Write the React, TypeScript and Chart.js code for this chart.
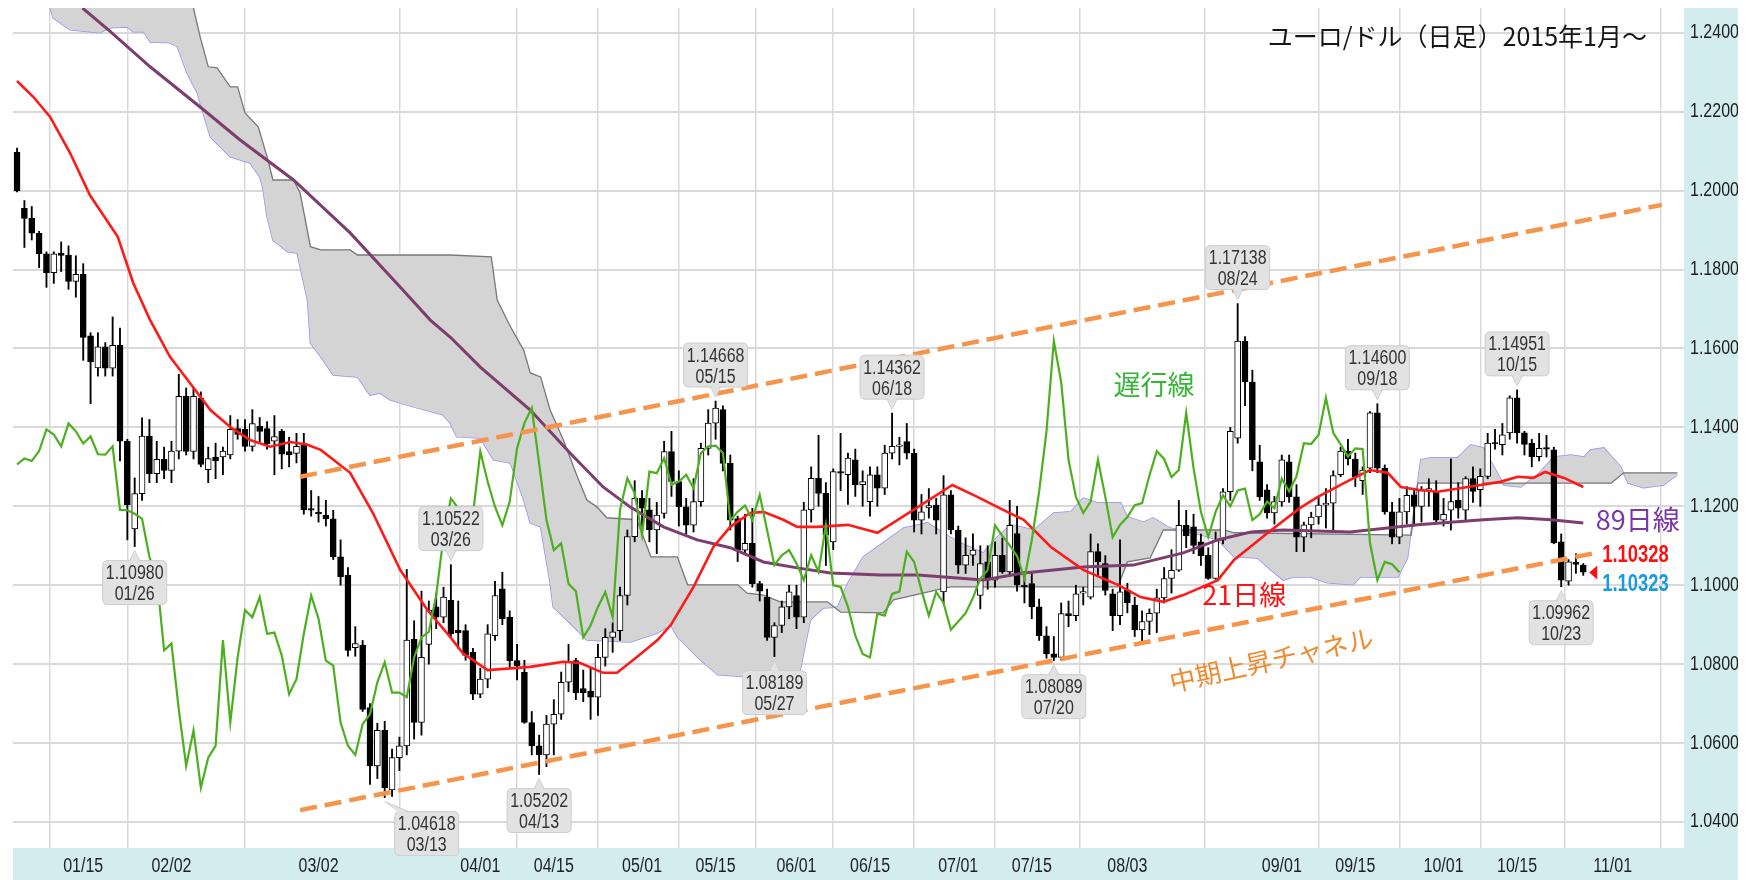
import React, { useEffect, useRef } from 'react';
import { Chart, registerables } from 'chart.js';

Chart.register(...registerables);

// ---- daily candles, 2015-01-02 .. 2015-10-28 (trading-day index 0..213) ----
const OPEN = [
  1.2097, 1.1955, 1.1930, 1.1892, 1.1840, 1.1792, 1.1842, 1.1836, 1.1770, 1.1788,
  1.1632, 1.1551, 1.1604, 1.1550, 1.1608, 1.1365, 1.1143, 1.1232, 1.1378, 1.1283,
  1.1319, 1.1291, 1.1340, 1.1479, 1.1339, 1.1474, 1.1293, 1.1325, 1.1325, 1.1330,
  1.1397, 1.1395, 1.1352, 1.1403, 1.1397, 1.1365, 1.1390, 1.1339, 1.1334, 1.1359,
  1.1194, 1.1183, 1.1178, 1.1168, 1.1072, 1.1026, 1.0842, 1.0848, 1.0690, 1.0542,
  1.0632, 1.0481, 1.0563, 1.0593, 1.0863, 1.0652, 1.0850, 1.0945, 1.0919, 1.0962,
  1.0886, 1.0885, 1.0830, 1.0724, 1.0762, 1.0872, 1.0991, 1.0919, 1.0809, 1.0779,
  1.0652, 1.0593, 1.0570, 1.0648, 1.0673, 1.0754, 1.0809, 1.0738, 1.0732, 1.0716,
  1.0817, 1.0868, 1.0885, 1.0974, 1.1123, 1.1220, 1.1191, 1.1140, 1.1182, 1.1339,
  1.1263, 1.1199, 1.1152, 1.1212, 1.1347, 1.1411, 1.1445, 1.1309, 1.1169, 1.1089,
  1.1106, 1.1004, 1.0970, 1.0868, 1.0898, 1.0945, 1.0974, 1.0919, 1.1191, 1.1271,
  1.1233, 1.1110, 1.1288, 1.1280, 1.1318, 1.1255, 1.1212, 1.1280, 1.1246, 1.1335,
  1.1352, 1.1364, 1.1335, 1.1165, 1.1196, 1.1203, 1.0983, 1.1229, 1.1140, 1.1051,
  1.1076, 1.0974, 1.1059, 1.1013, 1.1076, 1.1034, 1.1131, 1.1000, 1.1004, 1.0945,
  1.0872, 1.0826, 1.0817, 1.0928, 1.0923, 1.0980, 1.0970, 1.1085, 1.1055, 1.0978,
  1.0923, 1.0988, 1.0950, 1.0887, 1.0908, 1.0929, 1.0968, 1.1017, 1.1038, 1.1152,
  1.1148, 1.1110, 1.1076, 1.1017, 1.1114, 1.1237, 1.1373, 1.1619, 1.1515, 1.1313,
  1.1242, 1.1183, 1.1211, 1.1313, 1.1224, 1.1122, 1.1153, 1.1173, 1.1203, 1.1208,
  1.1280, 1.1340, 1.1320, 1.1265, 1.1297, 1.1437, 1.1297, 1.1186, 1.1122, 1.1186,
  1.1229, 1.1200, 1.1240, 1.1237, 1.1165, 1.1190, 1.1215, 1.1190, 1.1270, 1.1242,
  1.1276, 1.1360, 1.1356, 1.1386, 1.1475, 1.1386, 1.1360, 1.1326, 1.1347, 1.1343,
  1.1110, 1.1010, 1.1058, 1.1051,
];
const HIGH = [
  1.2108, 1.1975, 1.1960, 1.1897, 1.1845, 1.1845, 1.1870, 1.1860, 1.1835, 1.1815,
  1.1640, 1.1640, 1.1615, 1.1680, 1.1652, 1.1370, 1.1272, 1.1424, 1.1420, 1.1365,
  1.1350, 1.1365, 1.1535, 1.1500, 1.1500, 1.1490, 1.1350, 1.1360, 1.1350, 1.1430,
  1.1420, 1.1420, 1.1445, 1.1425, 1.1415, 1.1430, 1.1395, 1.1375, 1.1385, 1.1385,
  1.1240, 1.1225, 1.1215, 1.1190, 1.1115, 1.1045, 1.0895, 1.0860, 1.0700, 1.0650,
  1.0655, 1.0585, 1.0615, 1.1040, 1.0910, 1.0985, 1.0960, 1.0980, 1.0995, 1.10522,
  1.0960, 1.0900, 1.0840, 1.0790, 1.0900, 1.1010, 1.1033, 1.0935, 1.0850, 1.0810,
  1.0680, 1.0620, 1.0670, 1.0710, 1.0780, 1.0850, 1.0815, 1.0785, 1.0790, 1.0850,
  1.0890, 1.0905, 1.0995, 1.1140, 1.1265, 1.1240, 1.1220, 1.1210, 1.1365, 1.1390,
  1.1290, 1.1220, 1.1270, 1.1360, 1.1445, 1.14668, 1.1455, 1.1330, 1.1175, 1.1180,
  1.1195, 1.1010, 1.0990, 1.0905, 1.0960, 1.1000, 1.1000, 1.1210, 1.1300, 1.1380,
  1.1260, 1.1295, 1.1385, 1.1335, 1.1345, 1.1290, 1.1300, 1.1300, 1.1355, 1.14362,
  1.1375, 1.1410, 1.1345, 1.1230, 1.1245, 1.1220, 1.1278, 1.1240, 1.1150, 1.1120,
  1.1130, 1.1100, 1.1100, 1.1110, 1.1120, 1.1215, 1.1200, 1.1035, 1.1030, 1.0965,
  1.0895, 1.0870, 1.0955, 1.0960, 1.1000, 1.0995, 1.1130, 1.1105, 1.1075, 1.0990,
  1.1115, 1.1005, 1.0970, 1.0935, 1.0940, 1.0990, 1.1045, 1.1090, 1.1215, 1.1190,
  1.1180, 1.1130, 1.1095, 1.1135, 1.1245, 1.1400, 1.17138, 1.1630, 1.1545, 1.1355,
  1.1255, 1.1225, 1.1330, 1.1330, 1.1255, 1.1160, 1.1185, 1.1225, 1.1245, 1.1290,
  1.1350, 1.1370, 1.1335, 1.1300, 1.1440, 1.14600, 1.1305, 1.1210, 1.1220, 1.1250,
  1.1245, 1.1250, 1.1270, 1.1265, 1.1220, 1.1320, 1.1260, 1.1275, 1.1300, 1.1295,
  1.1385, 1.1395, 1.1410, 1.1480, 1.14951, 1.1390, 1.1370, 1.1385, 1.1380, 1.1350,
  1.1130, 1.1065, 1.1080, 1.1055,
];
const LOW = [
  1.1997, 1.1856, 1.1875, 1.1805, 1.1755, 1.1765, 1.1795, 1.1750, 1.1730, 1.1570,
  1.1460, 1.1530, 1.1530, 1.1530, 1.1315, 1.1115, 1.1098, 1.1215, 1.1260, 1.1260,
  1.1270, 1.1260, 1.1320, 1.1330, 1.1320, 1.1300, 1.1260, 1.1270, 1.1280, 1.1320,
  1.1370, 1.1340, 1.1340, 1.1360, 1.1345, 1.1280, 1.1295, 1.1300, 1.1310, 1.1180,
  1.1175, 1.1160, 1.1150, 1.1065, 1.1000, 1.0820, 1.0820, 1.0680, 1.0495, 1.0510,
  1.04618, 1.0465, 1.0530, 1.0570, 1.0610, 1.0620, 1.0800, 1.0890, 1.0905, 1.0865,
  1.0840, 1.0810, 1.0710, 1.0715, 1.0740, 1.0860, 1.0900, 1.0790, 1.0760, 1.0650,
  1.0570, 1.05202, 1.0540, 1.0570, 1.0660, 1.0730, 1.0710, 1.0705, 1.0660, 1.0670,
  1.0795, 1.0830, 1.0860, 1.0950, 1.1110, 1.1150, 1.1110, 1.1080, 1.1170, 1.1225,
  1.1150, 1.1130, 1.1135, 1.1200, 1.1330, 1.1370, 1.1290, 1.1140, 1.1060, 1.1080,
  1.0995, 1.0960, 1.0860, 1.08189, 1.0880, 1.0915, 1.0890, 1.0905, 1.1160, 1.1200,
  1.1050, 1.1090, 1.1240, 1.1205, 1.1225, 1.1200, 1.1175, 1.1200, 1.1230, 1.1320,
  1.1305, 1.1320, 1.1135, 1.1130, 1.1170, 1.1130, 1.0955, 1.1130, 1.1030, 1.1030,
  1.1050, 1.0940, 1.0990, 1.0995, 1.1030, 1.1025, 1.0985, 1.0955, 1.0915, 1.0860,
  1.0815, 1.08089, 1.0810, 1.0895, 1.0910, 1.0950, 1.0965, 1.1025, 1.0975, 1.0885,
  1.0900, 1.0930, 1.0870, 1.0850, 1.0875, 1.0880, 1.0955, 1.0980, 1.1035, 1.1095,
  1.1080, 1.1050, 1.1015, 1.1015, 1.1105, 1.1215, 1.1360, 1.1455, 1.1290, 1.1215,
  1.1170, 1.1155, 1.1200, 1.1210, 1.1085, 1.1085, 1.1120, 1.1155, 1.1145, 1.1140,
  1.1275, 1.1305, 1.1250, 1.1230, 1.1285, 1.1285, 1.1180, 1.1105, 1.1105, 1.1155,
  1.1150, 1.1160, 1.1200, 1.1160, 1.1150, 1.1140, 1.1170, 1.1165, 1.1210, 1.1200,
  1.1270, 1.1345, 1.1330, 1.1370, 1.1360, 1.1330, 1.1300, 1.1315, 1.1325, 1.1105,
  1.09962, 1.1000, 1.1030, 1.1025,
];
const CLOSE = [
  1.2000, 1.1930, 1.1892, 1.1840, 1.1792, 1.1840, 1.1836, 1.1770, 1.1788, 1.1628,
  1.1566, 1.1604, 1.1550, 1.1608, 1.1365, 1.1204, 1.1232, 1.1378, 1.1283, 1.1319,
  1.1291, 1.1340, 1.1479, 1.1339, 1.1479, 1.1306, 1.1321, 1.1315, 1.1340, 1.1395,
  1.1382, 1.1352, 1.1410, 1.1390, 1.1359, 1.1377, 1.1332, 1.1331, 1.1352, 1.1191,
  1.1190, 1.1181, 1.1168, 1.1072, 1.1021, 1.0835, 1.0852, 1.0685, 1.0542, 1.0632,
  1.0487, 1.0563, 1.0593, 1.0861, 1.0652, 1.0817, 1.0937, 1.0919, 1.0970, 1.0877,
  1.0880, 1.0822, 1.0724, 1.0762, 1.0877, 1.0974, 1.0915, 1.0809, 1.0796, 1.0652,
  1.0593, 1.0570, 1.0648, 1.0673, 1.0754, 1.0805, 1.0728, 1.0728, 1.0716, 1.0817,
  1.0868, 1.0882, 1.0974, 1.1123, 1.1220, 1.1195, 1.1140, 1.1178, 1.1339, 1.1263,
  1.1199, 1.1152, 1.1212, 1.1347, 1.1411, 1.1449, 1.1309, 1.1165, 1.1089, 1.1106,
  1.1004, 1.0985, 1.0868, 1.0898, 1.0945, 1.0983, 1.0919, 1.1191, 1.1271, 1.1233,
  1.1127, 1.1288, 1.1284, 1.1322, 1.1255, 1.1263, 1.1280, 1.1246, 1.1335, 1.1352,
  1.1354, 1.1335, 1.1165, 1.1186, 1.1202, 1.1165, 1.1229, 1.1140, 1.1051, 1.1076,
  1.1089, 1.1055, 1.1013, 1.1076, 1.1034, 1.1152, 1.1000, 1.0996, 1.0945, 1.0872,
  1.0826, 1.0817, 1.0928, 1.0923, 1.0978, 1.0984, 1.1085, 1.1059, 1.0987, 1.0923,
  1.0983, 1.0955, 1.0887, 1.0908, 1.0929, 1.0968, 1.1017, 1.1038, 1.1152, 1.1125,
  1.1101, 1.1074, 1.1017, 1.1114, 1.1237, 1.1390, 1.1619, 1.1515, 1.1318, 1.1224,
  1.1183, 1.1212, 1.1318, 1.1224, 1.1122, 1.1153, 1.1173, 1.1203, 1.1208, 1.1278,
  1.1340, 1.1320, 1.1274, 1.1292, 1.1437, 1.1297, 1.1186, 1.1122, 1.1186, 1.1228,
  1.1200, 1.1240, 1.1245, 1.1165, 1.1180, 1.1212, 1.1195, 1.1270, 1.1238, 1.1276,
  1.1360, 1.1358, 1.1381, 1.1475, 1.1386, 1.1357, 1.1326, 1.1347, 1.1345, 1.1107,
  1.1013, 1.1059, 1.1053, 1.1033,
];

// ---- indicator lines: [trading-day index, price] ----
const MA21: [number, number][] = [
  [0, 1.2278], [2.2, 1.2238], [4.5, 1.2187], [7.2, 1.2096], [9.9, 1.1989], [13.7, 1.1883],
  [15.8, 1.1766], [18.1, 1.1672], [20.8, 1.1579], [23.9, 1.1503], [26.3, 1.1444], [29.0, 1.1401],
  [31.7, 1.1368], [34.4, 1.1351], [37.2, 1.1363], [39.5, 1.1356], [41.3, 1.1343], [45.3, 1.1285],
  [48.4, 1.1183], [52.1, 1.1039], [55.8, 1.0937], [58.9, 1.0869], [60.6, 1.0828], [64.0, 1.0785],
  [69.8, 1.0793], [74.3, 1.0806], [76.6, 1.0803], [79.7, 1.0778], [81.6, 1.0778], [84.3, 1.0818],
  [87.1, 1.0861], [88.9, 1.0899], [92.0, 1.0996], [94.7, 1.1097], [97.0, 1.1148], [99.7, 1.1183],
  [101.5, 1.1186], [104.2, 1.1166], [106.1, 1.1148], [108.8, 1.1148], [113.0, 1.1153], [117.0, 1.1133],
  [122.5, 1.1198], [127.2, 1.1254], [130.6, 1.1224], [134.1, 1.1191], [136.9, 1.1166], [140.6, 1.1097],
  [145.0, 1.1039], [149.7, 1.1001], [152.8, 1.0970], [155.9, 1.0958], [158.6, 1.0975], [163.3, 1.1013],
  [165.5, 1.1064], [170.1, 1.1133], [174.5, 1.1196], [176.9, 1.1224], [181.3, 1.1267], [184.0, 1.1292],
  [186.4, 1.1285], [188.2, 1.1249], [190.5, 1.1242], [193.2, 1.1237], [197.3, 1.1249], [201.7, 1.1262],
  [204.1, 1.1275], [206.2, 1.1272], [207.8, 1.1287], [210.4, 1.1272], [213.0, 1.1249],
];
const MA89: [number, number][] = [
  [8.9, 1.2463], [12.7, 1.2403], [18.1, 1.2314], [24.9, 1.2212], [30.3, 1.2129], [37.6, 1.2027],
  [45.3, 1.1893], [52.1, 1.1756], [56.2, 1.1672], [58.9, 1.1629], [63.0, 1.1553], [69.8, 1.1444],
  [75.2, 1.1335], [79.7, 1.1249], [83.4, 1.1198], [87.9, 1.1148], [92.5, 1.1115], [97.0, 1.1095],
  [101.5, 1.1059], [106.1, 1.1044], [110.6, 1.1031], [117.4, 1.1026], [122.5, 1.1026], [131.4, 1.1013],
  [136.9, 1.1031], [145.0, 1.1046], [151.8, 1.1051], [158.6, 1.1082], [163.3, 1.1115], [167.8, 1.1135],
  [172.2, 1.1140], [181.3, 1.1135], [190.5, 1.1153], [199.4, 1.1166], [204.1, 1.1171], [208.6, 1.1166],
  [213.0, 1.1158],
];
const SPAN_A: [number, number][] = [
  [4.3, 1.2475], [4.9, 1.2438], [7.2, 1.2408], [11.2, 1.2400], [12.7, 1.2413], [15.0, 1.2415],
  [15.8, 1.2403], [17.2, 1.2403], [18.1, 1.2377], [20.8, 1.2375], [21.8, 1.2365], [23.1, 1.2299],
  [24.5, 1.2248], [25.3, 1.2197], [26.3, 1.2136], [29.0, 1.2086], [31.7, 1.2070], [33.0, 1.2035],
  [33.4, 1.2010], [34.0, 1.1934], [34.8, 1.1875], [36.8, 1.1845], [38.1, 1.1842], [38.5, 1.1807],
  [39.5, 1.1723], [39.9, 1.1614], [41.3, 1.1579], [43.0, 1.1533], [46.3, 1.1528], [48.0, 1.1482],
  [49.4, 1.1487], [50.7, 1.1470], [53.9, 1.1452], [57.9, 1.1432], [58.9, 1.1411], [59.8, 1.1376],
  [63.0, 1.1373], [64.8, 1.1318], [67.1, 1.1310], [68.9, 1.1216], [69.8, 1.1158], [71.2, 1.1148],
  [72.5, 1.1006], [72.9, 1.0945], [75.2, 1.0904], [77.5, 1.0861], [83.4, 1.0856], [87.1, 1.0879],
  [88.9, 1.0899], [89.8, 1.0869], [92.5, 1.0818], [95.3, 1.0773], [99.3, 1.0768], [101.5, 1.0740],
  [105.1, 1.0742], [106.5, 1.0785], [107.9, 1.0912], [109.6, 1.0942], [111.6, 1.0945], [113.0, 1.1006],
  [115.1, 1.1072], [117.0, 1.1097], [120.6, 1.1145], [123.8, 1.1158], [126.9, 1.1122], [128.3, 1.1107],
  [131.4, 1.1082], [133.3, 1.1122], [135.2, 1.1153], [138.3, 1.1140], [141.0, 1.1183], [143.3, 1.1186],
  [145.0, 1.1221], [146.9, 1.1209], [150.1, 1.1209], [151.0, 1.1173], [153.2, 1.1160], [154.5, 1.1171],
  [156.8, 1.1145], [161.0, 1.1128], [163.3, 1.1115], [165.5, 1.1072], [168.7, 1.1069], [170.5, 1.1039],
  [172.2, 1.1013], [173.6, 1.1021], [175.9, 1.1021], [178.2, 1.1006], [181.7, 1.1001], [182.7, 1.1021],
  [187.8, 1.1021], [189.1, 1.1069], [190.9, 1.1318], [192.3, 1.1323], [195.9, 1.1323], [197.7, 1.1356],
  [199.4, 1.1348], [201.3, 1.1285], [202.2, 1.1254], [204.5, 1.1249], [206.8, 1.1280], [209.0, 1.1325],
  [211.3, 1.1330], [213.1, 1.1325], [214.0, 1.1343], [215.8, 1.1348], [218.1, 1.1300], [219.1, 1.1259],
  [221.2, 1.1247], [223.9, 1.1254], [225.8, 1.1280],
];
const SPAN_B: [number, number][] = [
  [4.3, 1.2475], [23.9, 1.2470], [24.9, 1.2390], [26.0, 1.2314], [27.2, 1.2311], [29.0, 1.2263],
  [30.0, 1.2263], [31.0, 1.2197], [32.8, 1.2162], [34.0, 1.2086], [34.8, 1.2027], [37.6, 1.2027],
  [38.5, 1.1994], [39.9, 1.1858], [41.3, 1.1850], [45.3, 1.1850], [46.3, 1.1837], [58.9, 1.1837],
  [64.5, 1.1832], [65.3, 1.1723], [67.1, 1.1655], [68.9, 1.1596], [69.8, 1.1538], [71.2, 1.1528],
  [72.5, 1.1444], [74.3, 1.1368], [76.2, 1.1275], [77.5, 1.1216], [78.9, 1.1198], [80.2, 1.1171],
  [84.3, 1.1166], [86.2, 1.1072], [89.8, 1.1072], [91.2, 1.1001], [98.0, 1.1001], [99.3, 1.0980],
  [101.5, 1.0975], [103.8, 1.0958], [110.2, 1.0958], [112.0, 1.0932], [117.8, 1.0930], [119.2, 1.0963],
  [126.9, 1.0996], [149.7, 1.0996], [151.0, 1.1059], [154.1, 1.1069], [155.9, 1.1140], [164.1, 1.1140],
  [165.5, 1.1133], [189.6, 1.1127], [190.5, 1.1259], [216.8, 1.1259], [218.5, 1.1285], [225.8, 1.1285],
];

// mid-term rising channel (start / end of each dashed line)
const CHANNEL_UPPER: [number, number][] = [[38.5, 1.1275], [223.7, 1.1964]];
const CHANNEL_LOWER: [number, number][] = [[38.5, 1.0430], [214.7, 1.1082]];

const LAG_SHIFT = 25;
const ASK = 1.10328;
const BID = 1.10323;

// x axis ticks (trading-day index) and labels
const TICK_IDX = [0, 9, 21, 41, 63, 73, 85, 95, 106, 116, 128, 138, 151, 172, 182, 194, 204, 217];
const TICK_LABELS = ['', '01/15', '02/02', '03/02', '04/01', '04/15', '05/01', '05/15', '06/01', '06/15',
  '07/01', '07/15', '08/03', '09/01', '09/15', '10/01', '10/15', '11/01'];
const Y_TICKS = [1.04, 1.06, 1.08, 1.10, 1.12, 1.14, 1.16, 1.18, 1.20, 1.22, 1.24];

// highs / lows that carry a callout
const MARKERS: { i: number; side: 'high' | 'low'; date: string }[] = [
  { i: 16, side: 'low', date: '01/26' },
  { i: 50, side: 'low', date: '03/13' },
  { i: 59, side: 'high', date: '03/26' },
  { i: 71, side: 'low', date: '04/13' },
  { i: 95, side: 'high', date: '05/15' },
  { i: 103, side: 'low', date: '05/27' },
  { i: 119, side: 'high', date: '06/18' },
  { i: 141, side: 'low', date: '07/20' },
  { i: 166, side: 'high', date: '08/24' },
  { i: 185, side: 'high', date: '09/18' },
  { i: 204, side: 'high', date: '10/15' },
  { i: 210, side: 'low', date: '10/23' },
];
const MARKER_DX: Record<string, number> = { '03/13': 42 };

const SANS = '"Liberation Sans", Arial, sans-serif';
const NARROW_X = 0.8; // horizontal squeeze for the condensed UI font
const CJK = '"Noto Sans CJK JP", "Noto Sans", sans-serif';
const AXIS_BG = '#d3ecee';
const GRID = '#d9d9d9';

const LABELS = [
  { text: 'ユーロ/ドル（日足）2015年1月～', i: 170.1, v: 1.2390, color: '#151515', font: `25px ${CJK}`, rot: 0, align: 'left' },
  { text: '遅行線', i: 149.1, v: 1.1508, color: '#35b535', font: `27px ${CJK}`, rot: 0, align: 'left' },
  { text: '21日線', i: 161.2, v: 1.0975, color: '#ff1212', font: `27px ${CJK}`, rot: 0, align: 'left' },
  { text: '89日線', i: 214.7, v: 1.1166, color: '#7a36aa', font: `27px ${CJK}`, rot: 0, align: 'left' },
  { text: '中期上昇チャネル', i: 170.6, v: 1.0811, color: '#f08a2e', font: `26px ${CJK}`, rot: -12.5, align: 'center' },
];

function pts(a: [number, number][]) {
  return a.map(([x, y]) => ({ x, y }));
}

function narrowText(
  ctx: CanvasRenderingContext2D, text: string, x: number, y: number,
  align: CanvasTextAlign, font: string, color: string,
) {
  ctx.save();
  ctx.translate(x, y);
  ctx.scale(NARROW_X, 1);
  ctx.font = font;
  ctx.fillStyle = color;
  ctx.textAlign = align;
  ctx.textBaseline = 'middle';
  ctx.fillText(text, 0, 0);
  ctx.restore();
}

const bgPlugin = {
  id: 'axisBg',
  beforeDraw(chart: any) {
    const { ctx, chartArea: ca, width, height } = chart;
    ctx.save();
    ctx.fillStyle = AXIS_BG;
    ctx.fillRect(ca.left, ca.bottom, width - ca.left, height - ca.bottom);
    ctx.fillRect(ca.right, ca.top, width - ca.right, height - ca.top);
    ctx.restore();
  },
};

function rrect(ctx: CanvasRenderingContext2D, x: number, y: number, w: number, h: number, r: number) {
  ctx.beginPath();
  ctx.moveTo(x + r, y);
  ctx.lineTo(x + w - r, y);
  ctx.quadraticCurveTo(x + w, y, x + w, y + r);
  ctx.lineTo(x + w, y + h - r);
  ctx.quadraticCurveTo(x + w, y + h, x + w - r, y + h);
  ctx.lineTo(x + r, y + h);
  ctx.quadraticCurveTo(x, y + h, x, y + h - r);
  ctx.lineTo(x, y + r);
  ctx.quadraticCurveTo(x, y, x + r, y);
  ctx.closePath();
}

const overlayPlugin = {
  id: 'overlay',
  afterDraw(chart: any) {
    const { ctx, chartArea: ca } = chart;
    const xs = chart.scales.x;
    const ys = chart.scales.y;
    ctx.save();

    // axis labels (condensed)
    TICK_IDX.forEach((t, k) => {
      if (!TICK_LABELS[k]) return;
      narrowText(ctx, TICK_LABELS[k], xs.getPixelForValue(t), ca.bottom + 18, 'center', `20px ${SANS}`, '#1e1e2a');
    });
    Y_TICKS.forEach((v) => {
      narrowText(ctx, v.toFixed(4), ca.right + 6, ys.getPixelForValue(v), 'left', `20px ${SANS}`, '#1e1e1e');
    });

    // callouts
    const BW = 64, BH = 44, PH = 10, GAP = 4;
    MARKERS.forEach((m) => {
      const v = m.side === 'high' ? HIGH[m.i] : LOW[m.i];
      const px = xs.getPixelForValue(m.i);
      const py = ys.getPixelForValue(v);
      const cx = px + (MARKER_DX[m.date] || 0);
      const left = cx - BW / 2;
      let tipY: number, top: number, baseY: number, edgeY: number;
      if (m.side === 'high') {
        tipY = py - GAP;
        top = tipY - PH - BH;
        edgeY = top + BH;
        baseY = edgeY - 1.5;
      } else {
        tipY = py + GAP;
        top = tipY + PH;
        edgeY = top;
        baseY = edgeY + 1.5;
      }
      const bc = Math.min(Math.max(px, left + 9), left + BW - 9);
      ctx.fillStyle = '#e2e2e2';
      ctx.strokeStyle = '#cdcdcd';
      ctx.lineWidth = 1;
      ctx.beginPath();
      ctx.moveTo(px, tipY);
      ctx.lineTo(bc - 5, edgeY);
      ctx.lineTo(bc + 5, edgeY);
      ctx.closePath();
      ctx.fill();
      ctx.stroke();
      rrect(ctx, left, top, BW, BH, 5);
      ctx.fill();
      ctx.stroke();
      ctx.beginPath();
      ctx.moveTo(px, tipY + (m.side === 'high' ? -0.5 : 0.5));
      ctx.lineTo(bc - 4.3, baseY);
      ctx.lineTo(bc + 4.3, baseY);
      ctx.closePath();
      ctx.fill();
      narrowText(ctx, v.toFixed(5), cx, top + 13, 'center', `20px ${SANS}`, '#333333');
      narrowText(ctx, m.date, cx, top + 34, 'center', `20px ${SANS}`, '#333333');
    });

    // text labels
    LABELS.forEach((l) => {
      const x = xs.getPixelForValue(l.i);
      const y = ys.getPixelForValue(l.v);
      ctx.save();
      ctx.translate(x, y);
      ctx.rotate((l.rot * Math.PI) / 180);
      ctx.font = l.font;
      ctx.fillStyle = l.color;
      ctx.textAlign = l.align as CanvasTextAlign;
      ctx.textBaseline = 'middle';
      ctx.fillText(l.text, 0, 0);
      ctx.restore();
    });

    // current price marker
    const last = CLOSE.length - 1;
    const lx = xs.getPixelForValue(last);
    const pyBid = ys.getPixelForValue(BID);
    const pyAsk = ys.getPixelForValue(ASK);
    ctx.fillStyle = '#ff1010';
    ctx.beginPath();
    ctx.moveTo(lx + 6, pyBid);
    ctx.lineTo(lx + 14, pyBid - 7);
    ctx.lineTo(lx + 14, pyBid + 7);
    ctx.closePath();
    ctx.fill();
    narrowText(ctx, ASK.toFixed(5), lx + 19, pyAsk - 17, 'left', `bold 23px ${SANS}`, '#ff1010');
    narrowText(ctx, BID.toFixed(5), lx + 19, pyBid + 12, 'left', `bold 23px ${SANS}`, '#1a9be0');

    ctx.restore();
  },
};

export default function App() {
  const ref = useRef<HTMLCanvasElement | null>(null);

  useEffect(() => {
    if (!ref.current) return;
    const upDown = CLOSE.map((c, i) => (c >= OPEN[i] ? '#ffffff' : '#000000'));
    const lag = CLOSE.slice(LAG_SHIFT).map((c, k) => ({ x: k, y: c }));

    const chart = new Chart(ref.current, {
      type: 'bar',
      data: {
        datasets: [
          {
            type: 'line',
            label: 'spanA',
            data: pts(SPAN_A),
            borderColor: '#9292f5',
            borderWidth: 1.5,
            pointRadius: 0,
            fill: false,
            order: 20,
          } as any,
          {
            type: 'line',
            label: 'spanB',
            data: pts(SPAN_B),
            borderColor: '#787878',
            borderWidth: 1.3,
            pointRadius: 0,
            fill: '-1',
            backgroundColor: '#d4d4d4',
            order: 19,
          } as any,
          {
            type: 'bar',
            label: 'wick',
            data: OPEN.map((_, i) => ({ x: i, y: [LOW[i], HIGH[i]] })),
            backgroundColor: '#000000',
            barThickness: 1.2,
            grouped: false,
            order: 15,
          } as any,
          {
            type: 'bar',
            label: 'body',
            data: OPEN.map((o, i) => ({ x: i, y: [o, CLOSE[i]] })),
            backgroundColor: upDown,
            borderColor: '#000000',
            borderWidth: 1,
            borderSkipped: false,
            barThickness: 6,
            minBarLength: 1.5,
            grouped: false,
            order: 14,
          } as any,
          {
            type: 'line',
            label: 'ma89',
            data: pts(MA89),
            borderColor: '#7d3d6e',
            borderWidth: 3,
            pointRadius: 0,
            fill: false,
            order: 6,
          } as any,
          {
            type: 'line',
            label: 'ma21',
            data: pts(MA21),
            borderColor: '#ff1a1a',
            borderWidth: 2.6,
            pointRadius: 0,
            fill: false,
            order: 5,
          } as any,
          {
            type: 'line',
            label: 'lag',
            data: lag,
            borderColor: '#4caf1f',
            borderWidth: 2.2,
            pointRadius: 0,
            fill: false,
            order: 4,
          } as any,
          {
            type: 'line',
            label: 'chanU',
            data: pts(CHANNEL_UPPER),
            borderColor: '#f5944a',
            borderWidth: 4.5,
            borderDash: [17, 8],
            pointRadius: 0,
            fill: false,
            order: 2,
          } as any,
          {
            type: 'line',
            label: 'chanL',
            data: pts(CHANNEL_LOWER),
            borderColor: '#f5944a',
            borderWidth: 4.5,
            borderDash: [17, 8],
            pointRadius: 0,
            fill: false,
            order: 1,
          } as any,
        ],
      },
      options: {
        animation: false,
        responsive: false,
        maintainAspectRatio: false,
        layout: { padding: { left: 13, top: 8, right: 0, bottom: 0 } },
        plugins: {
          legend: { display: false },
          tooltip: { enabled: false },
          title: { display: false },
        },
        scales: {
          x: {
            type: 'linear',
            min: -0.55,
            max: 226.7,
            offset: false,
            afterBuildTicks: (s: any) => {
              s.ticks = TICK_IDX.map((v) => ({ value: v }));
            },
            afterFit: (s: any) => {
              s.height = 32;
            },
            ticks: { display: false, autoSkip: false },
            grid: { color: GRID, lineWidth: 1.5, drawTicks: false },
            border: { display: false },
          },
          y: {
            type: 'linear',
            position: 'right',
            min: 1.0334,
            max: 1.2463,
            afterBuildTicks: (s: any) => {
              s.ticks = Y_TICKS.map((v) => ({ value: v }));
            },
            afterFit: (s: any) => {
              s.width = 54;
            },
            ticks: { display: false },
            grid: { color: GRID, lineWidth: 2, drawTicks: false },
            border: { display: false },
          },
        },
      } as any,
      plugins: [bgPlugin, overlayPlugin],
    });
    return () => chart.destroy();
  }, []);

  return (
    <div style={{ position: 'fixed', left: 0, top: 0, width: 1749, height: 880, background: '#ffffff' }}>
      <canvas ref={ref} width={1738} height={880} style={{ display: 'block', width: 1738, height: 880 }} />
    </div>
  );
}
